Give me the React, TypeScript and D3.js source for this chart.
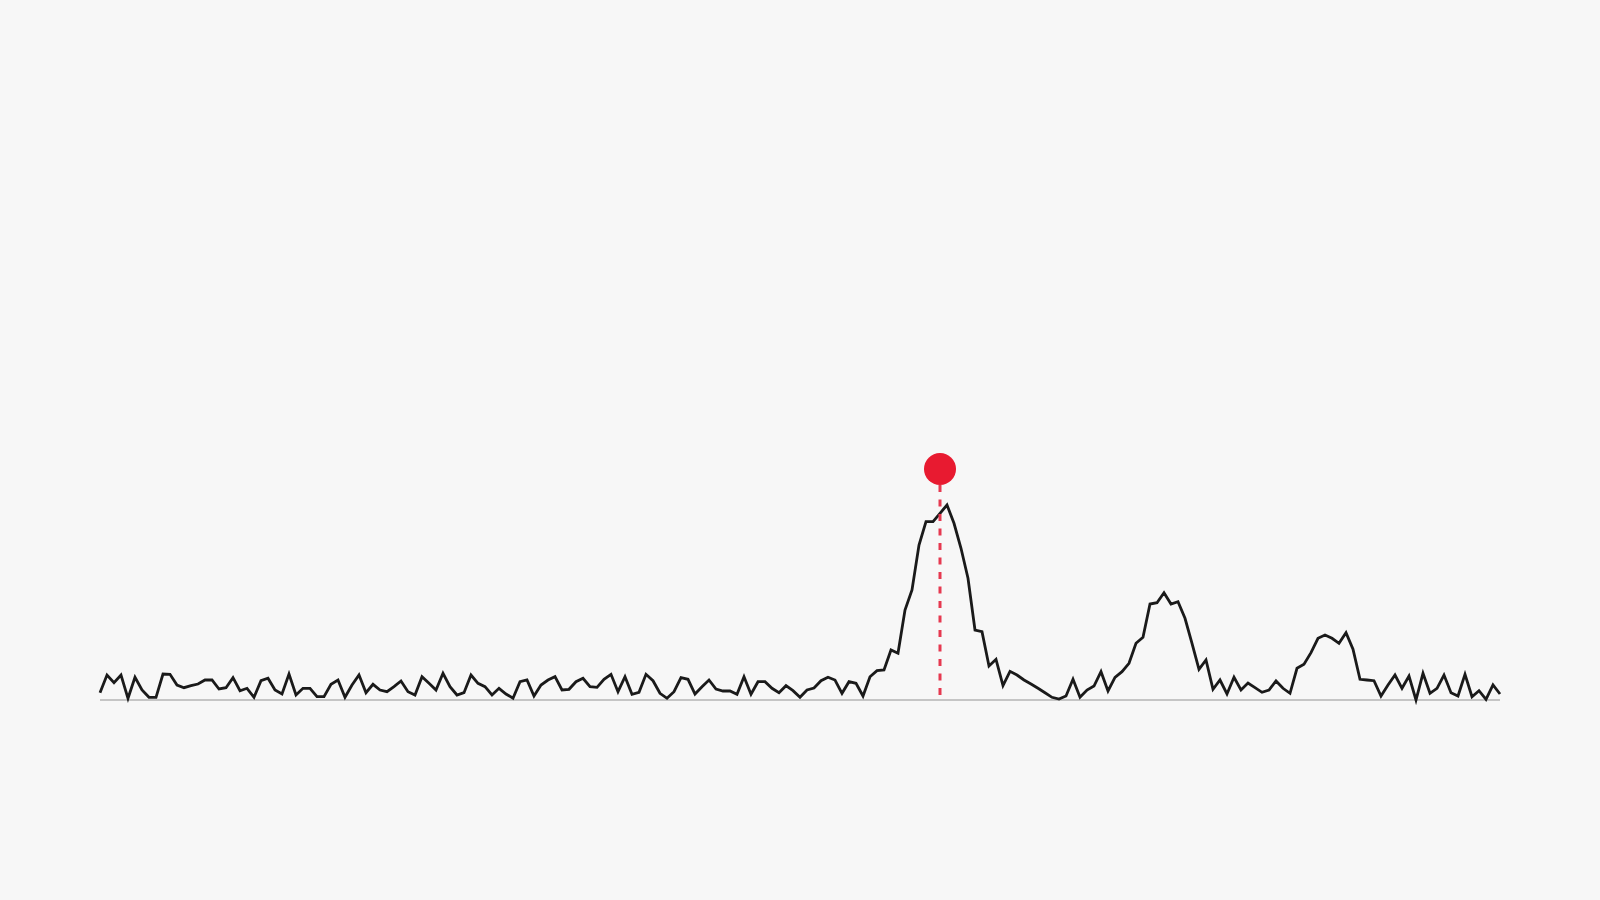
import * as d3 from 'd3'
import { useEffect, useRef } from 'react'

// signal readings, one per sample step
const samples: number[] = [
  7.3, 25, 17.3, 25, 1.7, 22.7, 10, 2.7, 2.7, 26, 25.7, 15, 12.3, 14.3, 16, 20, 20, 11, 12.3, 22.3,
  9.3, 11.7, 2.7, 19.3, 21.7, 10, 6, 26, 5, 11.7, 11.7, 3.3, 3.3, 15.7, 20, 2.7, 15, 25, 7.3, 15.7,
  10, 8.3, 13.3, 19, 8.3, 5, 23.3, 16.7, 10, 26.7, 13.3, 5, 7.3, 25, 16.7, 13.3, 5, 11.7, 6, 1.7,
  18.3, 20, 4, 15, 20, 23.3, 10, 10.7, 18.3, 21.7, 13.3, 12.7, 20.7, 25.7, 8.3, 23.3, 5.7, 7.7, 25.7, 19.3,
  6.7, 1.7, 8.3, 22.3, 20.7, 6, 13.3, 20, 11, 9, 9, 5.7, 23.3, 5.7, 18.3, 18.3, 11.7, 7.3, 14.3, 9.3,
  2.7, 10, 12, 19.3, 22.7, 20, 6.7, 18.3, 16.7, 4, 23.3, 29.3, 30, 50, 46.7, 90, 110, 155, 178.3, 178.3,
  186.7, 195, 176.7, 151.7, 121.7, 70, 68.3, 34, 40.7, 14.5, 28.7, 25, 20, 16, 11.7, 7.3, 2.7, 1, 4, 20.7,
  2.7, 10, 14, 28.3, 9, 22.7, 28.3, 36.7, 56.7, 62.7, 96, 97.3, 107.3, 96, 98.3, 81.7, 56.7, 30.7, 40, 10.7,
  20, 6, 22.7, 10, 17, 12.3, 7.7, 10, 19, 11.7, 6.7, 31.7, 35.7, 47.3, 61.7, 65, 61.7, 56.7, 67.3, 50.7,
  20.7, 20, 19.3, 4, 15, 25, 11.7, 24, 0, 26.7, 6.7, 11.7, 25, 7.3, 4, 25.7, 3.3, 9.3, 0.7, 15,
  6,
]

// highlighted sample
const markerIndex = 120
const valueMax = 200

export default function App() {
  const svgRef = useRef<SVGSVGElement>(null)

  useEffect(() => {
    document.body.style.margin = '0'
    document.body.style.background = '#f7f7f7'
    if (!svgRef.current) return
    const svg = d3.select(svgRef.current)
    svg.selectAll('*').remove()

    const w = 1600
    const h = 900
    const margin = { left: 100, right: 100 }
    const baseY = 700
    const topY = 500

    const x = d3
      .scaleLinear()
      .domain([0, samples.length - 1])
      .range([margin.left, w - margin.right])
    const y = d3.scaleLinear().domain([0, valueMax]).range([baseY, topY])

    svg.attr('viewBox', `0 0 ${w} ${h}`)

    svg
      .append('rect')
      .attr('width', w)
      .attr('height', h)
      .attr('fill', '#f7f7f7')

    // baseline
    svg
      .append('line')
      .attr('x1', x(0))
      .attr('x2', x(samples.length - 1))
      .attr('y1', y(0))
      .attr('y2', y(0))
      .attr('stroke', '#b5b5b5')
      .attr('stroke-width', 1.5)

    const line = d3
      .line<number>()
      .x((_, i) => x(i))
      .y((d) => y(d))

    svg
      .append('path')
      .datum(samples)
      .attr('fill', 'none')
      .attr('stroke', '#1a1a1a')
      .attr('stroke-width', 2.8)
      .attr('stroke-linejoin', 'miter')
      .attr('d', line)

    const peak = d3.max(samples) ?? 0
    const mx = x(markerIndex)
    const dotY = y(peak) - 36
    const r = 16

    svg
      .append('line')
      .attr('x1', mx)
      .attr('x2', mx)
      .attr('y1', dotY + r)
      .attr('y2', y(0))
      .attr('stroke', '#e63950')
      .attr('stroke-width', 3)
      .attr('stroke-dasharray', '7 7.5')

    svg
      .append('circle')
      .attr('cx', mx)
      .attr('cy', dotY)
      .attr('r', r)
      .attr('fill', '#e81a30')
  }, [])

  return <svg ref={svgRef} width={1600} height={900} style={{ display: 'block' }} />
}
